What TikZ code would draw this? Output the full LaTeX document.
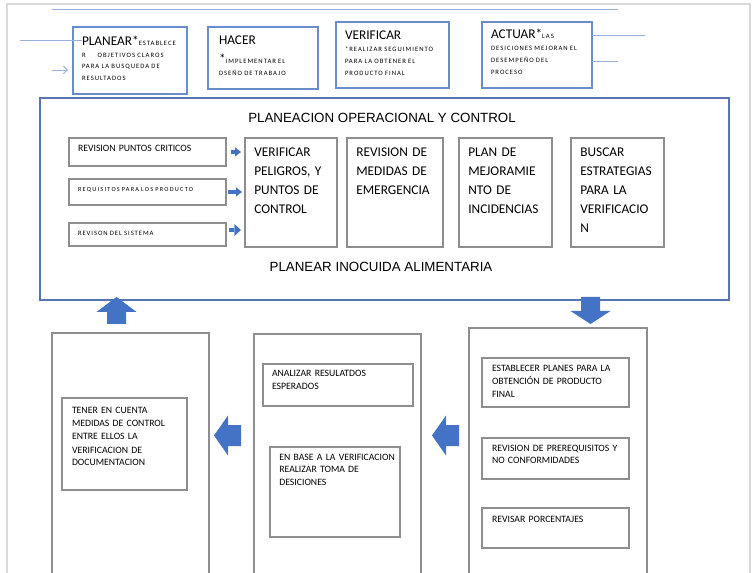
\documentclass[tikz,border=0pt]{standalone}
\usepackage{fontspec}
\setmainfont{Carlito}
\newfontfamily\arialfont{Liberation Sans}
\usetikzlibrary{shapes,arrows.meta,calc}

\definecolor{topblue}{HTML}{6A8CCB}
\definecolor{mainblue}{HTML}{5774B4}
\definecolor{arrowblue}{HTML}{4472C4}
\definecolor{boxgray}{HTML}{8E8E8E}
\definecolor{lineblue}{HTML}{9AB0DA}
\definecolor{pagegray}{HTML}{D9D9D9}

\newcommand{\headtxt}[1]{{\normalfont\fontsize{10}{12}\selectfont #1}}
\newcommand{\tinycaps}{\fontsize{5}{8.6}\selectfont\addfontfeature{LetterSpace=15}}

\tikzstyle{topbox} = [draw=topblue, line width=0.9pt, anchor=north west, outer sep=0pt,
    inner ysep=0pt, inner xsep=6.75pt, align=left, font=\tinycaps]
\tikzstyle{mainbox} = [draw=mainblue, line width=1pt, anchor=north west, outer sep=0pt, inner sep=0pt]
\tikzstyle{titletext} = [font={\arialfont\fontsize{10}{12}\selectfont}, anchor=base, inner sep=0pt]
\tikzstyle{reqbox} = [draw=boxgray, line width=0.9pt, anchor=north west, outer sep=0pt,
    inner ysep=0pt, inner xsep=6.75pt, text width=104.25pt, align=left]
\tikzstyle{phasebox} = [draw=boxgray, line width=0.9pt, anchor=north west, outer sep=0pt,
    inner ysep=0pt, inner xsep=7pt, align=left, text height=14.25pt, text depth=67.5pt,
    font={\fontsize{10}{14.25}\selectfont}]
\tikzstyle{colbox} = [draw=boxgray, line width=1pt, anchor=north west, outer sep=0pt,
    inner sep=0pt, minimum height=200pt]
\tikzstyle{taskbox} = [draw=boxgray, line width=0.9pt, anchor=north west, outer sep=0pt,
    inner ysep=0pt, inner xsep=7.5pt, align=left, font={\fontsize{7.3}{9.5}\selectfont}]
\tikzstyle{line} = [draw=lineblue, line width=0.7pt]
\tikzstyle{thinarrow} = [line, -{Straight Barb[length=3pt, width=6pt]}]
\tikzstyle{smallarrow} = [draw=arrowblue, line width=2.6pt, -{Triangle[length=4.5pt, width=7pt, line width=0pt]}]
\tikzstyle{blockarrow} = [fill=arrowblue]

\begin{document}
\begin{tikzpicture}[x=0.75pt, y=-0.75pt]
    \useasboundingbox (0,0) rectangle (753,573);
    \clip (0,0) rectangle (753,573);
    % Page
    \draw [pagegray, line width=0.8pt] (7,600) -- (7,4) -- (750,4) -- (750,600);
    \draw [line] (52,9) -- (618,9);
    % Place nodes
    \node [topbox, text width=72pt, text height=14.25pt, text depth=36pt] (planear) at (73,27)
        {\headtxt{PLANEAR*}ESTABLECE\\R\hspace{9pt}OBJETIVOS CLAROS\\PARA LA BUSQUEDA DE\\RESULTADOS};
    \node [topbox, text width=66pt, inner xsep=8.25pt, text height=13.5pt, text depth=33pt] (hacer) at (208,27)
        {\baselineskip=14pt\headtxt{HACER}\\\headtxt{*}IMPLEMENTAR EL\\DSEÑO DE TRABAJO};
    \node [topbox, text width=71.25pt, text height=13.5pt, text depth=36pt] (verificar) at (336,22)
        {\baselineskip=9pt\headtxt{VERIFICAR}\\{}*REALIZAR SEGUIMIENTO\\PARA LA OBTENER EL\\PRODUCTO FINAL};
    \node [topbox, text width=69pt, text height=12.75pt, text depth=36.75pt] (actuar) at (482,22)
        {\baselineskip=9pt\headtxt{ACTUAR*}LAS\\DESICIONES MEJORAN EL\\DESEMPEÑO DEL\\PROCESO};

    \node [mainbox, minimum width=516.75pt, minimum height=151.5pt] (main) at (40,98) {};
    \node [titletext] (plantitle) at (382,123) {PLANEACION OPERACIONAL Y CONTROL};
    \node [titletext] (subtitle) at (381,272) {PLANEAR INOCUIDA ALIMENTARIA};

    \node [reqbox, text height=10.5pt, text depth=10.5pt, font={\fontsize{7.3}{9}\selectfont}] (r1) at (69,138)
        {REVISION PUNTOS CRITICOS};
    \node [reqbox, text height=9.75pt, text depth=9.75pt,
        font={\fontsize{4.7}{6}\selectfont\addfontfeature{LetterSpace=20}}] (r2) at (69,179)
        {REQUISITOS PARA LOS PRODUCTO};
    \node [reqbox, text height=9.75pt, text depth=7.5pt,
        font={\fontsize{5}{6}\selectfont\addfontfeature{LetterSpace=14}}] (r3) at (69,223)
        {REVISON DEL SISTEMA};

    \node [phasebox, text width=55pt] (v1) at (245,138) {VERIFICAR\\PELIGROS, Y\\PUNTOS DE\\CONTROL};
    \node [phasebox, text width=58pt] (v2) at (347,138) {REVISION DE\\MEDIDAS DE\\EMERGENCIA};
    \node [phasebox, text width=55.75pt] (v3) at (459,138) {PLAN DE\\MEJORAMIE\\NTO DE\\INCIDENCIAS};
    \node [phasebox, text width=55.75pt] (v4) at (571,138) {BUSCAR\\ESTRATEGIAS\\PARA LA\\VERIFICACIO\\N};

    \node [colbox, minimum width=117.75pt] (b1) at (52,333) {};
    \node [colbox, minimum width=125.25pt] (b2) at (254,334) {};
    \node [colbox, minimum width=133.5pt] (b3) at (469,328) {};

    \node [taskbox, text width=78.75pt, text height=11.25pt, text depth=57.75pt] (c1) at (62,398)
        {\baselineskip=10pt TENER EN CUENTA\\MEDIDAS DE CONTROL\\ENTRE ELLOS LA\\VERIFICACION DE\\DOCUMENTACION};
    \node [taskbox, text width=99pt, inner xsep=6.75pt, text height=9.75pt, text depth=21.75pt] (d1) at (263,364)
        {ANALIZAR RESULATDOS\\ESPERADOS};
    \node [taskbox, text width=83.5pt, inner xsep=7pt, text height=9.75pt, text depth=57.75pt] (d2) at (270,447)
        {\mbox{EN BASE A LA VERIFICACION}\\REALIZAR TOMA DE\\DESICIONES};
    \node [taskbox, text width=95.25pt, text height=10.5pt, text depth=26.25pt] (e1) at (482,358)
        {ESTABLECER PLANES PARA LA\\OBTENCIÓN DE PRODUCTO\\FINAL};
    \node [taskbox, text width=95.25pt, text height=9.75pt, text depth=21pt] (e2) at (482,438)
        {REVISION DE PREREQUISITOS Y\\NO CONFORMIDADES};
    \node [taskbox, text width=95.25pt, text height=10.5pt, text depth=19.5pt] (e3) at (482,508)
        {REVISAR PORCENTAJES};

    % Draw edges
    \coordinate (lin) at (20,40);
    \coordinate (ain) at (52,70);
    \coordinate (aout1) at (645,35);
    \coordinate (aout2) at (618,61);
    \draw [line] (lin) -- ($(planear.west |- lin)+(9,0)$);
    \draw [thinarrow, shorten >=3.75pt] (ain) -- (planear.west |- ain);
    \draw [line] (actuar.east |- aout1) -- (aout1);
    \draw [line] (actuar.east |- aout2) -- (aout2);

    \coordinate (r3a) at ($(r3.east)+(0,-4.5)$);
    \draw [smallarrow, shorten <=3.75pt, shorten >=3pt] (r1.east) -- (v1.west |- r1.east);
    \draw [smallarrow, shorten <=1.5pt, shorten >=2.25pt] (r2.east) -- (v1.west |- r2.east);
    \draw [smallarrow, line width=3.5pt, shorten <=2.25pt, shorten >=3pt,
        -{Triangle[length=5pt, width=9pt, line width=0pt]}] (r3a) -- (v1.west |- r3a);

    % block arrows between the boxes
    \fill [blockarrow] ($(b1.north)+(-23.5,-9)$) -- ++(19,0) -- ++(0,-12) -- ++(10.5,0)
        -- ++(-20,-15) -- ++(-20,15) -- ++(10.5,0) -- cycle;
    \fill [blockarrow] ($(b3.north)+(23,-31)$) -- ++(19,0) -- ++(0,14) -- ++(10.5,0)
        -- ++(-20,13) -- ++(-20,-13) -- ++(10.5,0) -- cycle;
    \fill [blockarrow] ($(b3.north west)+(-10,97)$) -- ++(0,21) -- ++(-13,0) -- ++(0,9.5)
        -- ++(-14,-20) -- ++(14,-20) -- ++(0,9.5) -- cycle;
    \fill [blockarrow] ($(b2.north west)+(-13,91)$) -- ++(0,21) -- ++(-13,0) -- ++(0,9.5)
        -- ++(-14,-20) -- ++(14,-20) -- ++(0,9.5) -- cycle;
\end{tikzpicture}
\end{document}
